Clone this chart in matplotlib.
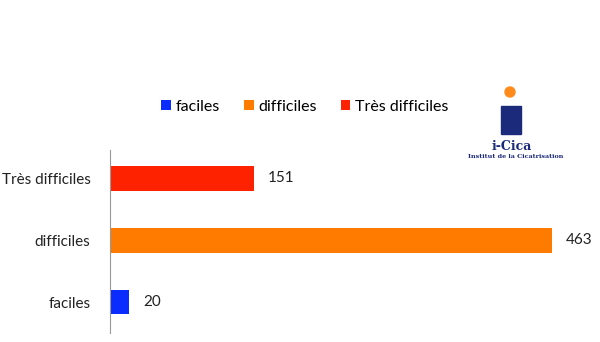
import matplotlib.pyplot as plt
from matplotlib.patches import Rectangle, Ellipse

categories = ['faciles', 'difficiles', 'Très difficiles']
values = [20, 463, 151]
colors = ['#0a2cff', '#ff7b00', '#ff2200']

plt.rcParams['font.family'] = ['Lato', 'DejaVu Sans']

fig = plt.figure(figsize=(6, 3.42), dpi=100)
ax = fig.add_axes([110 / 600, 1 - 333 / 342, 470 / 600, 183 / 342])

ypos = range(len(categories))
bars = ax.barh(ypos, values, height=0.4, color=colors)
for y, v in zip(ypos, values):
    ax.text(v + 14 / 0.955, y, str(v), va='center', ha='left', fontsize=11, color='#222222')

ax.set_xlim(0, 470 / 0.955)
ax.set_ylim(-0.5, 2.46)
ax.set_yticks(list(ypos))
ax.set_yticklabels(categories, fontsize=11, color='#222222')
ax.tick_params(axis='y', length=0, pad=14)
ax.set_xticks([])
for s in ['top', 'right', 'bottom']:
    ax.spines[s].set_visible(False)
ax.spines['left'].set_color('#999999')

leg = fig.legend(bars.patches, categories, loc='center', bbox_to_anchor=(305 / 600, 1 - 107 / 342),
                 ncol=3, frameon=False, fontsize=11.5, handlelength=0.6, handleheight=0.6,
                 handletextpad=0.3, columnspacing=1.5)

# logo
px = lambda x: x / 600
py = lambda y: 1 - y / 342
fig.patches.append(Rectangle((px(501), py(134)), px(20), 28 / 342, transform=fig.transFigure,
                             color='#1b2a7a'))
fig.patches.append(Ellipse((px(510), py(92)), px(10), 10 / 342, transform=fig.transFigure,
                           color='#ff8a1c'))
fig.text(px(512), py(147), 'i-Cica', ha='center', va='center', fontsize=9,
         family='DejaVu Serif', weight='bold', color='#1b2a7a')
fig.text(px(516), py(157), 'Institut de la Cicatrisation', ha='center', va='center', fontsize=4.6,
         family='DejaVu Serif', weight='bold', color='#1b2a7a')

fig.savefig('out.png', dpi=100)
